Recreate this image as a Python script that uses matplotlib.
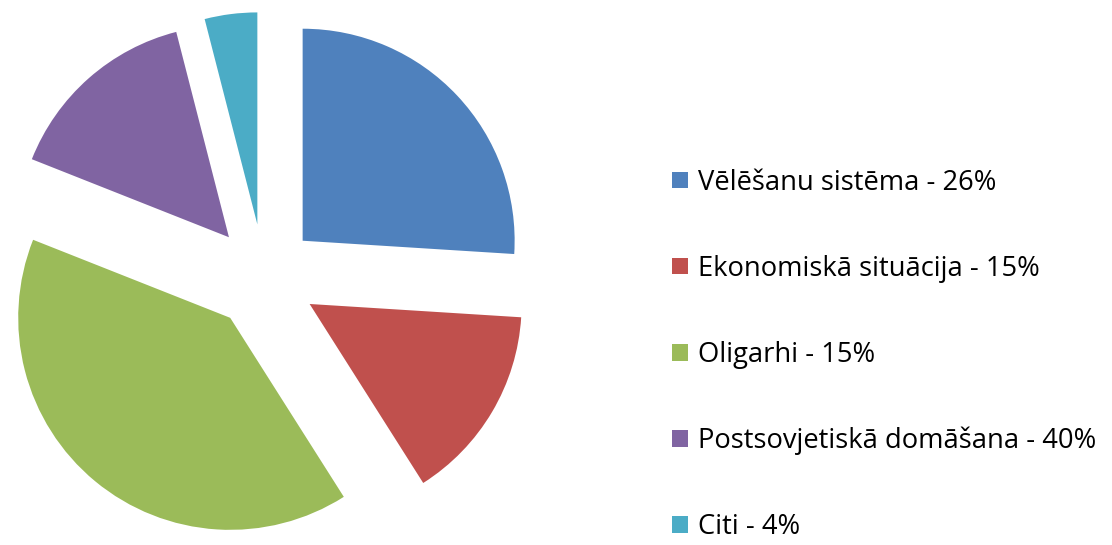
import matplotlib

matplotlib.use("Agg")
import matplotlib.pyplot as plt  # noqa: E402

# slice shares (%) as drawn, and the legend texts as printed
shares = [26, 15, 40, 15, 4]
labels = [
    "Vēlēšanu sistēma - 26%",
    "Ekonomiskā situācija - 15%",
    "Oligarhi - 15%",
    "Postsovjetiskā domāšana - 40%",
    "Citi - 4%",
]
colors = ["#4F81BD", "#C0504D", "#9BBB59", "#8064A2", "#4BACC6"]

W, H = 1112, 545
R = 212.0           # pie radius in px
CX, CY = 264, 268   # pie centre in px (from left, from bottom)

fig = plt.figure(figsize=(W / 100, H / 100), dpi=100)
ax = fig.add_axes([0, 0, 1, 1])
wedges, _ = ax.pie(shares, colors=colors, startangle=90, counterclock=False,
                   explode=[0.25] * len(shares), radius=1.0,
                   wedgeprops=dict(linewidth=0))
ax.set_aspect("auto")
ax.set_xlim(-CX / R, (W - CX) / R)
ax.set_ylim(-CY / R, (H - CY) / R)
ax.axis("off")

leg = fig.legend(wedges, labels, loc="center left",
                 bbox_to_anchor=(672 / W, 1 - 355 / H),
                 frameon=False, borderpad=0, borderaxespad=0,
                 prop={"family": "Open Sans", "size": 19.7},
                 handlelength=0.57, handleheight=0.57, handletextpad=0.37,
                 labelspacing=2.12)

fig.savefig("out.png", dpi=100)
